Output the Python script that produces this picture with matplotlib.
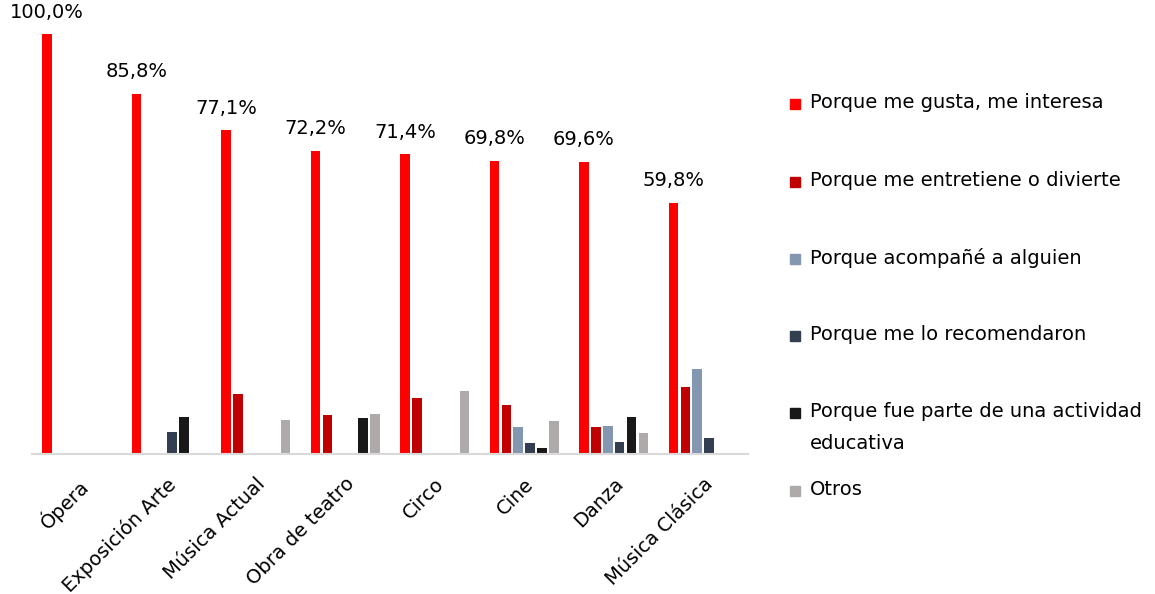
import numpy as np
import matplotlib
matplotlib.use("Agg")
import matplotlib.pyplot as plt
from matplotlib.patches import Rectangle

# categories and series (percent)
categories = ["Ópera", "Exposición Arte", "Música Actual", "Obra de teatro",
              "Circo", "Cine", "Danza", "Música Clásica"]
series_names = ["Porque me gusta, me interesa",
                "Porque me entretiene o divierte",
                "Porque acompañé a alguien",
                "Porque me lo recomendaron",
                "Porque fue parte de una actividad\neducativa",
                "Otros"]
gusta = [100.0, 85.8, 77.1, 72.2, 71.4, 69.8, 69.6, 59.8]
entretiene = [0.0, 0.0, 14.3, 9.1, 13.3, 11.5, 6.4, 15.9]
acompane = [0.0, 0.0, 0.0, 0.0, 0.0, 6.4, 6.5, 20.1]
recomendaron = [0.0, 5.2, 0.0, 0.0, 0.0, 2.4, 2.8, 3.6]
educativa = [0.0, 8.7, 0.0, 8.5, 0.0, 1.2, 8.7, 0.0]
otros = [0.0, 0.0, 8.0, 9.5, 15.0, 7.8, 4.8, 0.0]
colors = ["#FF0000", "#C00000", "#8497B0", "#333F50", "#181818", "#AEAAAA"]

all_series = [gusta, entretiene, acompane, recomendaron, educativa, otros]

fig = plt.figure(figsize=(11.55, 5.94), dpi=100)
ax = fig.add_axes([0.0277, 0.2365, 0.6199, 0.706])

n = len(all_series)
slot = 0.8 / n
x = np.arange(len(categories))
for j, vals in enumerate(all_series):
    pos = x + (j - (n - 1) / 2) * slot
    vals = np.array(vals)
    mask = vals > 0
    ax.bar(pos[mask], vals[mask], width=slot * 0.8, color=colors[j])
    if j == 0:
        # data labels only on the first series
        for px, v in zip(pos, vals):
            ax.annotate(f"{v:.1f}%".replace(".", ","), (px, v), xytext=(0, 9),
                        textcoords="offset points", ha="center", va="bottom",
                        fontsize=14, annotation_clip=False)

ax.set_xlim(-0.5, len(categories) - 0.5)
ax.set_ylim(0, 100)
for s in ["top", "right", "left"]:
    ax.spines[s].set_visible(False)
ax.spines["bottom"].set_color("#D9D9D9")
ax.spines["bottom"].set_linewidth(1.5)
ax.set_yticks([])
ax.set_xticks(x)
ax.set_xticklabels(categories, rotation=45, ha="right", rotation_mode="anchor",
                   fontsize=14)
ax.tick_params(axis="x", length=0, pad=15)

# legend drawn on the figure (marker aligned with first line of each entry)
leg_y = [104, 182, 259, 336, 413, 491]
H = 594.0
W = 1155.0
for name, c, yy in zip(series_names, colors, leg_y):
    fig.patches.append(Rectangle((790 / W, 1 - (yy + 5) / H), 10 / W, 10 / H,
                                 transform=fig.transFigure, color=c))
    fig.text(810 / W, 1 - (yy - 11) / H, name, fontsize=14, va="top",
             ha="left", linespacing=1.85)

fig.savefig("out.png", dpi=100)
